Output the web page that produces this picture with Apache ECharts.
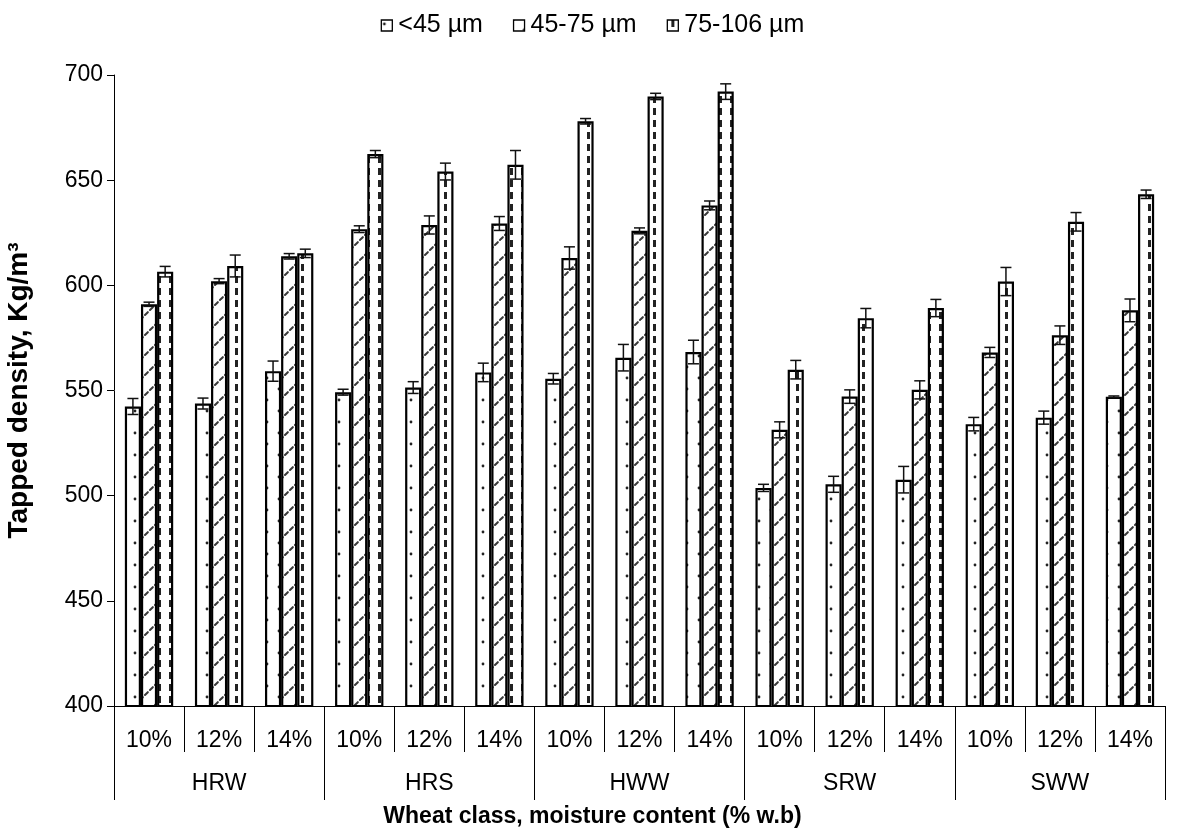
<!DOCTYPE html>
<html>
<head>
<meta charset="utf-8">
<script src="https://cdn.jsdelivr.net/npm/echarts@6/dist/echarts.min.js"></script>
<style>
  html, body { margin: 0; padding: 0; background: #fff; }
  #chart { width: 1185px; height: 836px; }
</style>
</head>
<body>
<div id="chart"></div>
<script>
// Wheat classes and moisture levels on the two-level category axis
const groups = ['HRW', 'HRS', 'HWW', 'SRW', 'SWW'];
const moistures = ['10%', '12%', '14%'];

// Particle-size fractions (legend entries)
const seriesNames = ['<45 µm', '45-75 µm', '75-106 µm'];

// Tapped density means (kg/m³), order: HRW 10/12/14, HRS 10/12/14, ...
const fine = [542.4, 543.8, 559.2, 549.2, 551.4, 558.6, 555.6, 565.6, 568.3, 503.7, 505.4, 507.6, 534.0, 537.1, 547.0];
const medium = [591.0, 602.0, 613.8, 626.7, 628.7, 629.4, 613.0, 625.9, 638.0, 531.3, 547.1, 550.3, 568.1, 576.3, 588.1];
const coarse = [606.5, 609.2, 615.2, 662.4, 654.1, 657.3, 678.0, 689.8, 692.1, 559.9, 584.4, 589.2, 601.8, 630.2, 643.3];

// Standard deviations for the error bars
const fineErr = [3.8, 2.6, 4.8, 1.4, 2.8, 4.4, 2.5, 6.3, 5.6, 1.7, 3.8, 6.3, 3.2, 3.1, 0.4];
const mediumErr = [1.0, 1.2, 1.3, 1.6, 4.3, 3.3, 5.3, 1.4, 2.1, 3.8, 3.2, 4.3, 2.4, 4.4, 5.4];
const coarseErr = [2.5, 5.2, 2.0, 1.7, 4.0, 6.8, 1.3, 1.5, 3.7, 4.4, 4.6, 4.1, 6.7, 4.4, 2.0];

// Y axis range and step
const yMin = 400, yMax = 700, yStep = 50;

const categories = [];
groups.forEach(g => moistures.forEach(m => categories.push(g + ' ' + m)));

// ---- fill patterns ----
function tile(w, h, draw) {
  const c = document.createElement('canvas');
  c.width = w; c.height = h;
  const g = c.getContext('2d');
  g.fillStyle = '#fff';
  g.fillRect(0, 0, w, h);
  draw(g, w, h);
  return c;
}
// sparse dots
const dotTile = tile(24, 22, g => {
  g.fillStyle = '#222';
  g.beginPath(); g.arc(3, 4, 1.4, 0, Math.PI * 2); g.fill();
  g.beginPath(); g.arc(15, 15, 1.4, 0, Math.PI * 2); g.fill();
});
// dashed upward diagonals
const diagTile = tile(20, 20, (g, w, h) => {
  g.strokeStyle = '#3a3a3a';
  g.lineWidth = 2;
  g.lineCap = 'round';
  g.setLineDash([4, 3.07]);
  [-20, 0, 20].forEach(off => {
    g.beginPath();
    g.moveTo(off, h);
    g.lineTo(off + w, 0);
    g.stroke();
  });
});
// vertical dashes
const vdashTile = tile(11, 12, g => {
  g.fillStyle = '#222';
  g.fillRect(4, 0, 3, 7);
});
const patterns = [dotTile, diagTile, vdashTile];

const values = [fine, medium, coarse];
const errors = [fineErr, mediumErr, coarseErr];

const CAT_GAP = 0.31;          // share of each band left empty
const FONT = "'Liberation Sans', Arial, sans-serif";

const series = [];
values.forEach((vals, k) => {
  series.push({
    name: seriesNames[k],
    type: 'bar',
    xAxisIndex: 0,
    data: vals,
    barGap: '0%',
    barCategoryGap: (CAT_GAP * 100) + '%',
    itemStyle: {
      color: { image: patterns[k], repeat: 'repeat' },
      borderColor: '#000',
      borderWidth: 2.2
    },
    emphasis: { disabled: true },
    z: 2
  });
});
values.forEach((vals, k) => {
  series.push({
    name: 'sd-' + k,
    type: 'custom',
    xAxisIndex: 0,
    silent: true,
    z: 5,
    encode: { x: 0, y: 1 },
    data: vals.map((v, i) => [i, v, errors[k][i]]),
    renderItem: (params, api) => {
      const i = api.value(0), v = api.value(1), e = api.value(2);
      const band = api.size([1, 0])[0];
      const bw = band * (1 - CAT_GAP) / 3;
      const cx = api.coord([i, v])[0] + (k - 1) * bw;
      const yTop = api.coord([i, v + e])[1];
      const yBot = api.coord([i, v - e])[1];
      const hw = 5.5;
      const style = { stroke: '#111', lineWidth: 1.5 };
      return {
        type: 'group',
        children: [
          { type: 'line', shape: { x1: cx, y1: yTop, x2: cx, y2: yBot }, style },
          { type: 'line', shape: { x1: cx - hw, y1: yTop, x2: cx + hw, y2: yTop }, style },
          { type: 'line', shape: { x1: cx - hw, y1: yBot, x2: cx + hw, y2: yBot }, style }
        ]
      };
    }
  });
});

const chart = echarts.init(document.getElementById('chart'), null, { renderer: 'canvas' });
chart.setOption({
  animation: false,
  backgroundColor: '#fff',
  textStyle: { fontFamily: FONT, color: '#000' },
  title: {
    text: 'Wheat class, moisture content (% w.b)',
    left: 'center',
    top: 805,
    padding: 0,
    textStyle: { fontFamily: FONT, fontSize: 23, fontWeight: 'bold', color: '#000' }
  },
  legend: {
    data: seriesNames,
    top: 8,
    left: 'center',
    icon: 'rect',
    itemWidth: 11,
    itemHeight: 11,
    itemGap: 30,
    selectedMode: false,
    itemStyle: { borderColor: '#000', borderWidth: 1.3 },
    textStyle: { fontFamily: FONT, fontSize: 25, color: '#000', padding: [0, 0, 0, 1] }
  },
  grid: { left: 114, right: 20, top: 75, bottom: 130, outerBoundsMode: 'none' },
  xAxis: [
    {
      type: 'category',
      position: 'bottom',
      data: categories,
      axisLine: { show: true, lineStyle: { color: '#000', width: 1 } },
      axisTick: { show: true, interval: 0, length: 46, lineStyle: { color: '#000', width: 1 } },
      axisLabel: {
        interval: 0, margin: 23, fontSize: 23, color: '#000', fontFamily: FONT,
        formatter: v => v.split(' ')[1]
      },
      splitLine: { show: false }
    },
    {
      type: 'category',
      position: 'bottom',
      data: groups,
      axisLine: { show: false },
      axisTick: { show: true, interval: 0, length: 94, lineStyle: { color: '#000', width: 1 } },
      axisLabel: { interval: 0, margin: 66, fontSize: 23, color: '#000', fontFamily: FONT },
      splitLine: { show: false }
    }
  ],
  yAxis: {
    type: 'value',
    min: yMin,
    max: yMax,
    interval: yStep,
    name: 'Tapped density, Kg/m³',
    nameLocation: 'middle',
    nameGap: 81,
    nameTextStyle: { fontFamily: FONT, fontSize: 28, fontWeight: 'bold', color: '#000' },
    axisLine: { show: true, lineStyle: { color: '#000', width: 1 } },
    axisTick: { show: true, length: 7, lineStyle: { color: '#000' } },
    axisLabel: { fontSize: 23, color: '#000', margin: 11, fontFamily: FONT },
    splitLine: { show: false }
  },
  series
});
</script>
</body>
</html>
